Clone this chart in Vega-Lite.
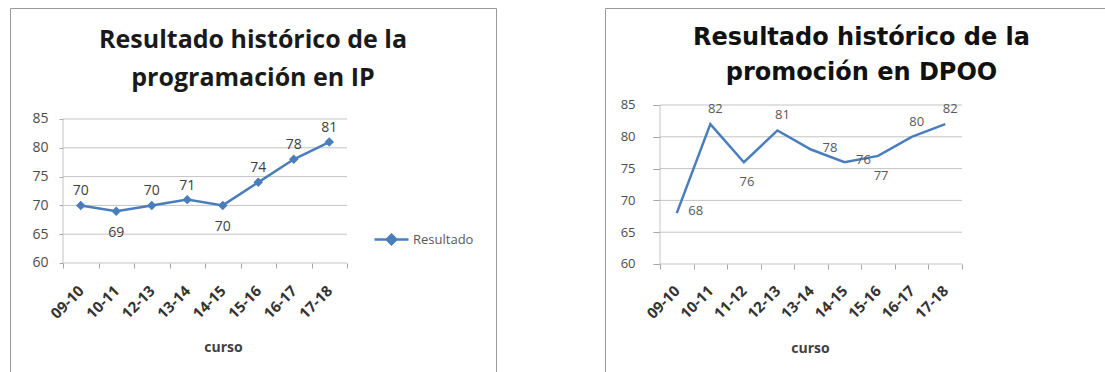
{
  "$schema": "https://vega.github.io/schema/vega-lite/v6.json",
  "padding": {"left": 4, "top": 7, "right": 0, "bottom": 0},
  "background": "white",
  "bounds": "flush",
  "spacing": 109,
  "config": {
    "view": {"stroke": "#9a9a9a", "strokeWidth": 1},
    "axis": {"labelFont": "Open Sans", "titleFont": "Open Sans"}
  },
  "datasets": {
    "ip": [
      {"curso": "09-10", "valor": 70, "serie": "Resultado"},
      {"curso": "10-11", "valor": 69, "serie": "Resultado"},
      {"curso": "12-13", "valor": 70, "serie": "Resultado"},
      {"curso": "13-14", "valor": 71, "serie": "Resultado"},
      {"curso": "14-15", "valor": 70, "serie": "Resultado"},
      {"curso": "15-16", "valor": 74, "serie": "Resultado"},
      {"curso": "16-17", "valor": 78, "serie": "Resultado"},
      {"curso": "17-18", "valor": 81, "serie": "Resultado"}
    ],
    "ipGrid": [
      {"curso": "09-10", "hasta": "17-18", "valor": 60},
      {"curso": "09-10", "hasta": "17-18", "valor": 65},
      {"curso": "09-10", "hasta": "17-18", "valor": 70},
      {"curso": "09-10", "hasta": "17-18", "valor": 75},
      {"curso": "09-10", "hasta": "17-18", "valor": 80},
      {"curso": "09-10", "hasta": "17-18", "valor": 85}
    ],
    "ipEje": [{"curso": "09-10", "valor": 60, "valor2": 85}],
    "dpoo": [
      {"curso": "09-10", "valor": 68, "serie": "Resultado"},
      {"curso": "10-11", "valor": 82, "serie": "Resultado"},
      {"curso": "11-12", "valor": 76, "serie": "Resultado"},
      {"curso": "12-13", "valor": 81, "serie": "Resultado"},
      {"curso": "13-14", "valor": 78, "serie": "Resultado"},
      {"curso": "14-15", "valor": 76, "serie": "Resultado"},
      {"curso": "15-16", "valor": 77, "serie": "Resultado"},
      {"curso": "16-17", "valor": 80, "serie": "Resultado"},
      {"curso": "17-18", "valor": 82, "serie": "Resultado"}
    ],
    "dpooGrid": [
      {"curso": "09-10", "hasta": "17-18", "valor": 60},
      {"curso": "09-10", "hasta": "17-18", "valor": 65},
      {"curso": "09-10", "hasta": "17-18", "valor": 70},
      {"curso": "09-10", "hasta": "17-18", "valor": 75},
      {"curso": "09-10", "hasta": "17-18", "valor": 80},
      {"curso": "09-10", "hasta": "17-18", "valor": 85}
    ],
    "dpooEje": [{"curso": "09-10", "valor": 60, "valor2": 85}]
  },
  "hconcat": [
    {
      "width": 486,
      "height": 368,
      "title": {
        "text": ["Resultado histórico de la", "programación en IP"],
        "anchor": "middle",
        "frame": "group",
        "baseline": "top",
        "offset": -83,
        "font": "Open Sans",
        "fontSize": 25,
        "fontWeight": "bold",
        "lineHeight": 38,
        "color": "#1a1a1a"
      },
      "encoding": {
        "x": {
          "field": "curso",
          "type": "nominal",
          "scale": {
            "type": "band",
            "domain": ["09-10", "10-11", "12-13", "13-14", "14-15", "15-16", "16-17", "17-18"],
            "range": [53, 337],
            "paddingInner": 0,
            "paddingOuter": 0
          },
          "axis": {
            "title": "curso",
            "offset": -113,
            "domain": false,
            "grid": false,
            "tickBand": "extent",
            "tickSize": 5,
            "tickColor": "#a6a6a6",
            "labelAngle": -45,
            "labelAlign": "right",
            "labelBaseline": "middle",
            "labelPadding": 20,
            "labelOverlap": false,
            "labelFontSize": 15,
            "labelFontWeight": "bold",
            "labelColor": "#333333",
            "titleFontSize": 14,
            "titleFontWeight": "bold",
            "titleColor": "#404040",
            "titleX": 213,
            "titleY": 84,
            "titleBaseline": "middle"
          }
        },
        "y": {
          "field": "valor",
          "type": "quantitative",
          "scale": {"domain": [40.38, 104.27], "nice": false, "zero": false},
          "axis": {
            "title": null,
            "values": [60, 65, 70, 75, 80, 85],
            "offset": -53,
            "domain": false,
            "grid": false,
            "tickSize": 4,
            "tickColor": "#a6a6a6",
            "labelPadding": 11,
            "labelFontSize": 14,
            "labelColor": "#4d4d4d"
          }
        }
      },
      "layer": [
        {
          "data": {"name": "ipGrid"},
          "mark": {"type": "rule", "color": "#c4c4c4", "strokeWidth": 1},
          "encoding": {
            "x": {"field": "curso", "type": "nominal", "bandPosition": 0},
            "x2": {"field": "hasta", "bandPosition": 1}
          }
        },
        {
          "data": {"name": "ipEje"},
          "mark": {"type": "rule", "color": "#c4c4c4", "strokeWidth": 1},
          "encoding": {
            "x": {"field": "curso", "type": "nominal", "bandPosition": 0},
            "y2": {"field": "valor2"}
          }
        },
        {
          "data": {"name": "ip"},
          "mark": {"type": "line", "strokeWidth": 2.5},
          "encoding": {
            "color": {
              "field": "serie",
              "type": "nominal",
              "scale": {"range": ["#4a7ebb"]},
              "legend": {
                "title": null,
                "orient": "none",
                "legendX": 363,
                "legendY": 213,
                "padding": 0,
                "symbolType": "M-1,0H1M0,-0.28L0.28,0L0,0.28L-0.28,0Z",
                "symbolSize": 1156,
                "symbolStrokeWidth": 2.5,
                "symbolFillColor": "#4a7ebb",
                "symbolStrokeColor": "#4a7ebb",
                "labelFont": "Open Sans",
                "labelFontSize": 13,
                "labelColor": "#595959",
                "labelOffset": 3
              }
            }
          }
        },
        {
          "data": {"name": "ip"},
          "mark": {"type": "point", "shape": "diamond", "filled": true, "size": 90, "color": "#4a7ebb", "opacity": 1}
        },
        {
          "data": {"name": "ip"},
          "transform": [{"filter": "datum.curso !== '10-11' && datum.curso !== '14-15'"}],
          "mark": {"type": "text", "dy": -14, "font": "Open Sans", "fontSize": 14, "color": "#404040", "baseline": "middle"},
          "encoding": {"text": {"field": "valor", "type": "quantitative"}}
        },
        {
          "data": {"name": "ip"},
          "transform": [{"filter": "datum.curso === '10-11' || datum.curso === '14-15'"}],
          "mark": {"type": "text", "dy": 22, "font": "Open Sans", "fontSize": 14, "color": "#404040", "baseline": "middle"},
          "encoding": {"text": {"field": "valor", "type": "quantitative"}}
        }
      ]
    },
    {
      "width": 505,
      "height": 368,
      "title": {
        "text": ["Resultado histórico de la", "promoción en DPOO"],
        "anchor": "middle",
        "frame": "group",
        "baseline": "top",
        "offset": -77,
        "dx": 4,
        "font": "DejaVu Sans",
        "fontSize": 24,
        "fontWeight": "bold",
        "lineHeight": 35,
        "color": "#111111"
      },
      "encoding": {
        "x": {
          "field": "curso",
          "type": "nominal",
          "scale": {
            "type": "band",
            "domain": ["09-10", "10-11", "11-12", "12-13", "13-14", "14-15", "15-16", "16-17", "17-18"],
            "range": [55, 357],
            "paddingInner": 0,
            "paddingOuter": 0
          },
          "axis": {
            "title": "curso",
            "offset": -112,
            "domain": false,
            "grid": false,
            "tickBand": "extent",
            "tickSize": 5,
            "tickColor": "#a6a6a6",
            "labelAngle": -45,
            "labelAlign": "right",
            "labelBaseline": "middle",
            "labelPadding": 19,
            "labelOverlap": false,
            "labelFontSize": 15,
            "labelFontWeight": "bold",
            "labelColor": "#333333",
            "titleFontSize": 14,
            "titleFontWeight": "bold",
            "titleColor": "#404040",
            "titleX": 205,
            "titleY": 84,
            "titleBaseline": "middle"
          }
        },
        "y": {
          "field": "valor",
          "type": "quantitative",
          "scale": {"domain": [42.39, 100.25], "nice": false, "zero": false},
          "axis": {
            "title": null,
            "values": [60, 65, 70, 75, 80, 85],
            "offset": -55,
            "domain": false,
            "grid": false,
            "tickSize": 7,
            "tickColor": "#a6a6a6",
            "labelPadding": 18,
            "labelFontSize": 13,
            "labelColor": "#4d4d4d"
          }
        }
      },
      "layer": [
        {
          "data": {"name": "dpooGrid"},
          "mark": {"type": "rule", "color": "#c4c4c4", "strokeWidth": 1},
          "encoding": {
            "x": {"field": "curso", "type": "nominal", "bandPosition": 0},
            "x2": {"field": "hasta", "bandPosition": 1}
          }
        },
        {
          "data": {"name": "dpooEje"},
          "mark": {"type": "rule", "color": "#c4c4c4", "strokeWidth": 1},
          "encoding": {
            "x": {"field": "curso", "type": "nominal", "bandPosition": 0},
            "y2": {"field": "valor2"}
          }
        },
        {
          "data": {"name": "dpoo"},
          "mark": {"type": "line", "strokeWidth": 2.5},
          "encoding": {
            "color": {
              "field": "serie",
              "type": "nominal",
              "scale": {"range": ["#4a7ebb"]},
              "legend": {
                "title": null,
                "orient": "none",
                "legendX": 387,
                "legendY": 210,
                "padding": 0,
                "symbolType": "M-1,0H1",
                "symbolSize": 900,
                "symbolStrokeWidth": 2.5,
                "symbolStrokeColor": "#4a7ebb",
                "labelFont": "Open Sans",
                "labelFontSize": 14,
                "labelColor": "#595959",
                "labelOffset": 3
              }
            }
          }
        },
        {
          "data": {"name": "dpoo"},
          "transform": [{"filter": "indexof(['10-11','12-13','16-17','17-18'], datum.curso) >= 0"}],
          "mark": {"type": "text", "dx": 5, "dy": -15, "font": "Open Sans", "fontSize": 13, "color": "#595959", "baseline": "middle"},
          "encoding": {"text": {"field": "valor", "type": "quantitative"}}
        },
        {
          "data": {"name": "dpoo"},
          "transform": [{"filter": "indexof(['11-12','15-16'], datum.curso) >= 0"}],
          "mark": {"type": "text", "dx": 3, "dy": 20, "font": "Open Sans", "fontSize": 13, "color": "#595959", "baseline": "middle"},
          "encoding": {"text": {"field": "valor", "type": "quantitative"}}
        },
        {
          "data": {"name": "dpoo"},
          "transform": [{"filter": "indexof(['09-10','13-14','14-15'], datum.curso) >= 0"}],
          "mark": {"type": "text", "dx": 19, "dy": -2, "font": "Open Sans", "fontSize": 13, "color": "#595959", "baseline": "middle"},
          "encoding": {"text": {"field": "valor", "type": "quantitative"}}
        }
      ]
    }
  ]
}
